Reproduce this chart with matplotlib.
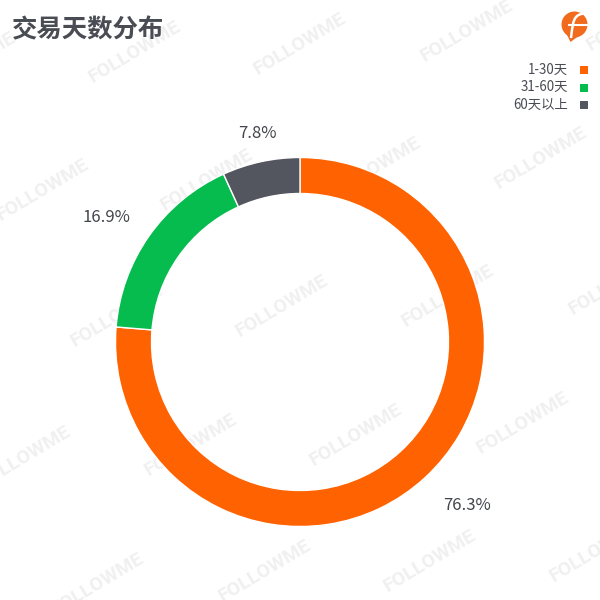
import numpy as np
import matplotlib
matplotlib.use('Agg')
import matplotlib.pyplot as plt
from matplotlib.patches import Circle, Wedge, Polygon, PathPatch
from matplotlib.path import Path

plt.rcParams['font.family'] = ['Noto Sans CJK SC', 'DejaVu Sans']

# Data
categories = ['1-30天', '31-60天', '60天以上']
values = [76.3, 16.9, 6.8]  # size of the slices as drawn
labels = ['76.3%', '16.9%', '7.8%']  # the picture prints 7.8 on the smaller grey slice
colors = ['#ff6200', '#07bc4e', '#53565f']

# Layout, in pixels
label_x = [467, 106, 257]
label_y = [505, 217, 133]

title = '交易天数分布'
watermark = 'FOLLOWME'
wm_x = [-30, 135, 300, 467, 633, 43, 207, 375, 541, 117, 282, 448, 615, 25, 191, 356, 523, 98, 265, 430, 596]
wm_y = [63, 52, 44, 31, 20, 190, 180, 168, 158, 316, 306, 296, 284, 457, 445, 435, 423, 584, 571, 561, 551]

fig = plt.figure(figsize=(6, 6), dpi=100)
ax = fig.add_axes([0, 0, 1, 1])
ax.set_xlim(0, 600)
ax.set_ylim(600, 0)
ax.axis('off')

# Watermark
for x, y in zip(wm_x, wm_y):
    ax.text(x, y, watermark, fontsize=14, fontweight='bold', color='#f0f0f0',
            rotation=31, ha='center', va='center', family='Roboto', zorder=0)

# Ring, y axis is flipped so angles run clockwise from the top
cx, cy = 300, 342
r_out, r_in = 184.5, 148.5
start = -90
total = sum(values)
for v, c in zip(values, colors):
    sweep = v / total * 360
    ax.add_patch(Wedge((cx, cy), r_out, start, start + sweep, width=r_out - r_in,
                       facecolor=c, edgecolor='white', linewidth=1, zorder=2))
    start += sweep

for lab, x, y in zip(labels, label_x, label_y):
    ax.text(x, y, lab, fontsize=12, color='#43454d', ha='center', va='center', zorder=3)

# Title
ax.text(12, 29.5, title, fontsize=18.3, fontweight='bold', color='#4a4c54', ha='left', va='center')

# Legend
for i, (name, c) in enumerate(zip(categories, colors)):
    y = 69.5 + i * 17.7
    ax.text(568, y, name, fontsize=9.6, color='#4a4c54', ha='right', va='center')
    ax.add_patch(plt.Rectangle((579.5, y - 3.7), 8, 8, facecolor=c, edgecolor='none'))

# Logo
ax.add_patch(Circle((574.5, 24.5), 13, facecolor='#f26a1b', edgecolor='none', zorder=2))
ax.add_patch(Polygon([[566, 33], [580, 35], [570.5, 42]], facecolor='#f26a1b', edgecolor='none', zorder=2))
f_stroke = Path([(585, 13.5), (573, 14), (573, 22), (571, 38)],
                [Path.MOVETO, Path.CURVE4, Path.CURVE4, Path.CURVE4])
ax.add_patch(PathPatch(f_stroke, facecolor='none', edgecolor='white', linewidth=1.8, zorder=3))
ax.plot([569, 588], [24.5, 24.5], color='white', linewidth=1.5, zorder=3)

fig.savefig('out.png', dpi=100)
